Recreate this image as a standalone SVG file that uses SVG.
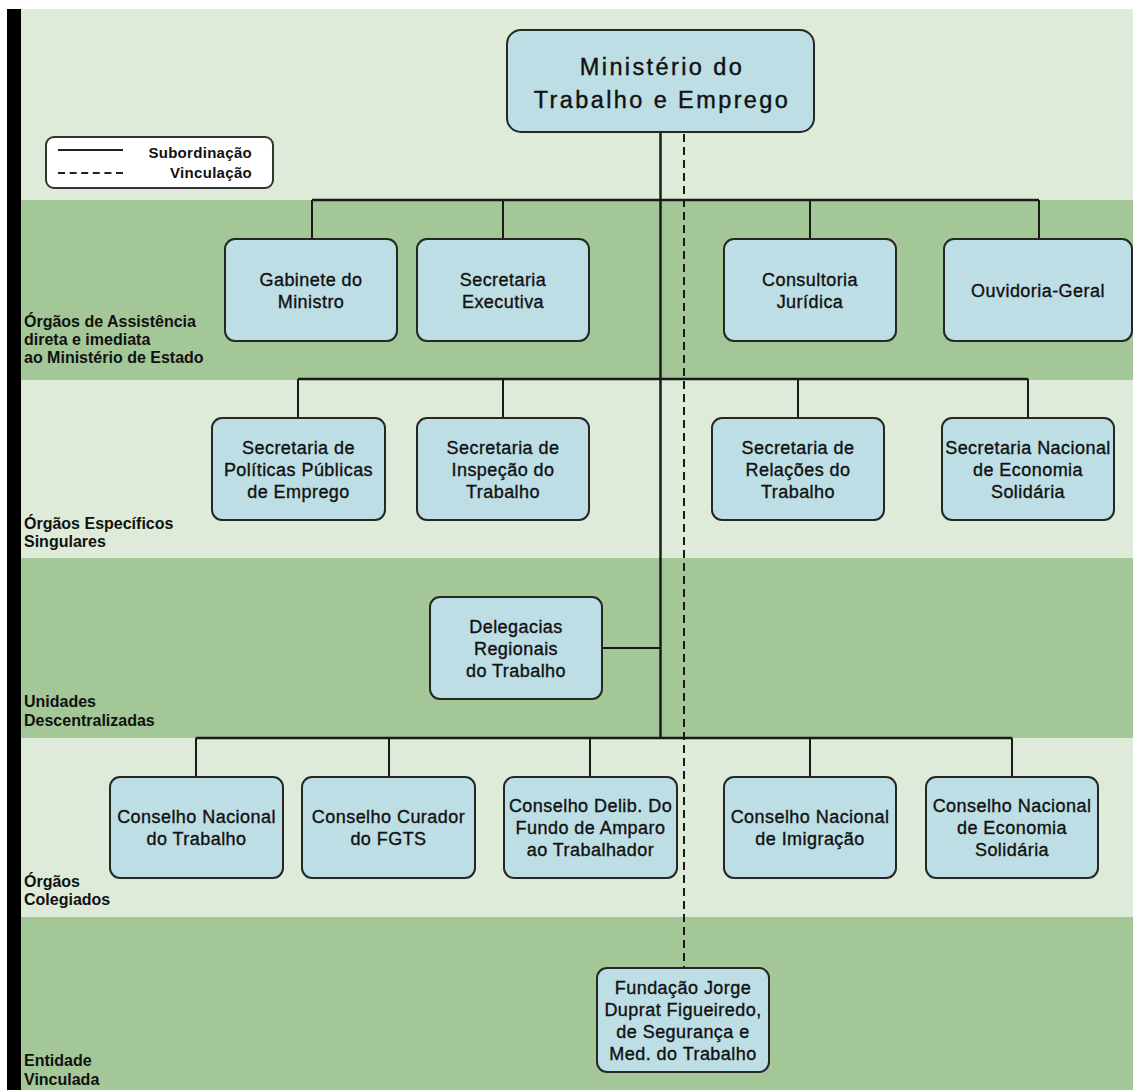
<svg xmlns="http://www.w3.org/2000/svg" width="1133" height="1090" viewBox="0 0 1133 1090">
<defs>
<style>
.bl{fill:#deebd8}
.bd{fill:#a3c796}
.box{fill:#bcdee4;stroke:#262626;stroke-width:2}
.t{font-family:"Liberation Sans",Arial,sans-serif;font-size:18px;letter-spacing:0.45px;fill:#111;stroke:#111;stroke-width:0.35;text-anchor:middle}
.tt{font-family:"Liberation Sans",Arial,sans-serif;font-size:23.5px;letter-spacing:2.4px;fill:#111;stroke:#111;stroke-width:0.4;text-anchor:middle}
.lab{font-family:"Liberation Sans",Arial,sans-serif;font-size:16px;font-weight:bold;fill:#111}
.leg{font-family:"Liberation Sans",Arial,sans-serif;font-size:15px;font-weight:bold;letter-spacing:0.3px;fill:#111;text-anchor:end}
.ln{fill:none;stroke:#1a1a1a;stroke-width:2}
.bus{fill:none;stroke:#1a1a1a;stroke-width:2.5}
.dash{fill:none;stroke:#1a1a1a;stroke-width:2;stroke-dasharray:8 5}
</style>
</defs>
<rect x="0" y="0" width="1133" height="1090" fill="#ffffff"/>
<g id="bands">
<rect class="bl" x="21" y="9" width="1112" height="191"/>
<rect class="bd" x="21" y="200" width="1112" height="180"/>
<rect class="bl" x="21" y="380" width="1112" height="178"/>
<rect class="bd" x="21" y="558" width="1112" height="180"/>
<rect class="bl" x="21" y="738" width="1112" height="179"/>
<rect class="bd" x="21" y="917" width="1112" height="173"/>
<rect x="7" y="9" width="14" height="1081" fill="#000"/>
</g>
<g id="labels">
<text class="lab" x="24" y="327">Órgãos de Assistência</text>
<text class="lab" x="24" y="345">direta e imediata</text>
<text class="lab" x="24" y="363">ao Ministério de Estado</text>
<text class="lab" x="24" y="529">Órgãos Específicos</text>
<text class="lab" x="24" y="547">Singulares</text>
<text class="lab" x="24" y="707">Unidades</text>
<text class="lab" x="24" y="726">Descentralizadas</text>
<text class="lab" x="24" y="887">Órgãos</text>
<text class="lab" x="24" y="905">Colegiados</text>
<text class="lab" x="24" y="1066">Entidade</text>
<text class="lab" x="24" y="1085">Vinculada</text>
</g>
<g id="legend">
<rect x="46" y="137" width="227" height="51" rx="8" fill="#fff" stroke="#333" stroke-width="2"/>
<line x1="58" y1="150" x2="123" y2="150" stroke="#222" stroke-width="2"/>
<line x1="58" y1="173" x2="123" y2="173" stroke="#222" stroke-width="2" stroke-dasharray="7 4.6"/>
<text class="leg" x="252" y="158">Subordinação</text>
<text class="leg" x="252" y="178">Vinculação</text>
</g>
<g id="connectors">
<path class="bus" d="M660.5 132 V738"/>
<path class="bus" d="M312 200 H1039"/>
<path class="ln" d="M312 200 V239 M503 200 V239 M810 200 V239 M1039 200 V239"/>
<path class="bus" d="M298 379 H1028"/>
<path class="ln" d="M298 379 V418 M503 379 V418 M798 379 V418 M1028 379 V418"/>
<path class="ln" d="M602 648 H660"/>
<path class="bus" d="M196 738 H1012"/>
<path class="ln" d="M196 738 V777 M389 738 V777 M590 738 V777 M810 738 V777 M1012 738 V777"/>
<path class="dash" d="M684 134 V968"/>
</g>
<g id="n-mte">
<rect class="box" x="507" y="30" width="307" height="102" rx="14"/>
<text class="tt" x="662" y="75">Ministério do</text>
<text class="tt" x="662" y="108">Trabalho e Emprego</text>
</g>
<g id="n-gabinete">
<rect class="box" x="225" y="239" width="172" height="102" rx="10"/>
<text class="t" x="311" y="286">Gabinete do</text>
<text class="t" x="311" y="308">Ministro</text>
</g>
<g id="n-secexec">
<rect class="box" x="417" y="239" width="172" height="102" rx="10"/>
<text class="t" x="503" y="286">Secretaria</text>
<text class="t" x="503" y="308">Executiva</text>
</g>
<g id="n-consultoria">
<rect class="box" x="724" y="239" width="172" height="102" rx="10"/>
<text class="t" x="810" y="286">Consultoria</text>
<text class="t" x="810" y="308">Jurídica</text>
</g>
<g id="n-ouvidoria">
<rect class="box" x="944" y="239" width="188" height="102" rx="10"/>
<text class="t" x="1038" y="297">Ouvidoria-Geral</text>
</g>
<g id="n-sppe">
<rect class="box" x="212" y="418" width="173" height="102" rx="10"/>
<text class="t" x="298.5" y="454">Secretaria de</text>
<text class="t" x="298.5" y="476">Políticas Públicas</text>
<text class="t" x="298.5" y="498">de Emprego</text>
</g>
<g id="n-sit">
<rect class="box" x="417" y="418" width="172" height="102" rx="10"/>
<text class="t" x="503" y="454">Secretaria de</text>
<text class="t" x="503" y="476">Inspeção do</text>
<text class="t" x="503" y="498">Trabalho</text>
</g>
<g id="n-srt">
<rect class="box" x="712" y="418" width="172" height="102" rx="10"/>
<text class="t" x="798" y="454">Secretaria de</text>
<text class="t" x="798" y="476">Relações do</text>
<text class="t" x="798" y="498">Trabalho</text>
</g>
<g id="n-senaes">
<rect class="box" x="942" y="418" width="172" height="102" rx="10"/>
<text class="t" x="1028" y="454">Secretaria Nacional</text>
<text class="t" x="1028" y="476">de Economia</text>
<text class="t" x="1028" y="498">Solidária</text>
</g>
<g id="n-drt">
<rect class="box" x="430" y="597" width="172" height="102" rx="10"/>
<text class="t" x="516" y="633">Delegacias</text>
<text class="t" x="516" y="655">Regionais</text>
<text class="t" x="516" y="677">do Trabalho</text>
</g>
<g id="n-cnt">
<rect class="box" x="110" y="777" width="173" height="101" rx="10"/>
<text class="t" x="196.5" y="823">Conselho Nacional</text>
<text class="t" x="196.5" y="845">do Trabalho</text>
</g>
<g id="n-ccfgts">
<rect class="box" x="302" y="777" width="173" height="101" rx="10"/>
<text class="t" x="388.5" y="823">Conselho Curador</text>
<text class="t" x="388.5" y="845">do FGTS</text>
</g>
<g id="n-codefat">
<rect class="box" x="504" y="777" width="173" height="101" rx="10"/>
<text class="t" x="590.5" y="812">Conselho Delib. Do</text>
<text class="t" x="590.5" y="834">Fundo de Amparo</text>
<text class="t" x="590.5" y="856">ao Trabalhador</text>
</g>
<g id="n-cnig">
<rect class="box" x="724" y="777" width="172" height="101" rx="10"/>
<text class="t" x="810" y="823">Conselho Nacional</text>
<text class="t" x="810" y="845">de Imigração</text>
</g>
<g id="n-cnes">
<rect class="box" x="926" y="777" width="172" height="101" rx="10"/>
<text class="t" x="1012" y="812">Conselho Nacional</text>
<text class="t" x="1012" y="834">de Economia</text>
<text class="t" x="1012" y="856">Solidária</text>
</g>
<g id="n-fundacentro">
<rect class="box" x="597" y="968" width="172" height="104" rx="10"/>
<text class="t" x="683" y="994">Fundação Jorge</text>
<text class="t" x="683" y="1016">Duprat Figueiredo,</text>
<text class="t" x="683" y="1038">de Segurança e</text>
<text class="t" x="683" y="1060">Med. do Trabalho</text>
</g>
</svg>
